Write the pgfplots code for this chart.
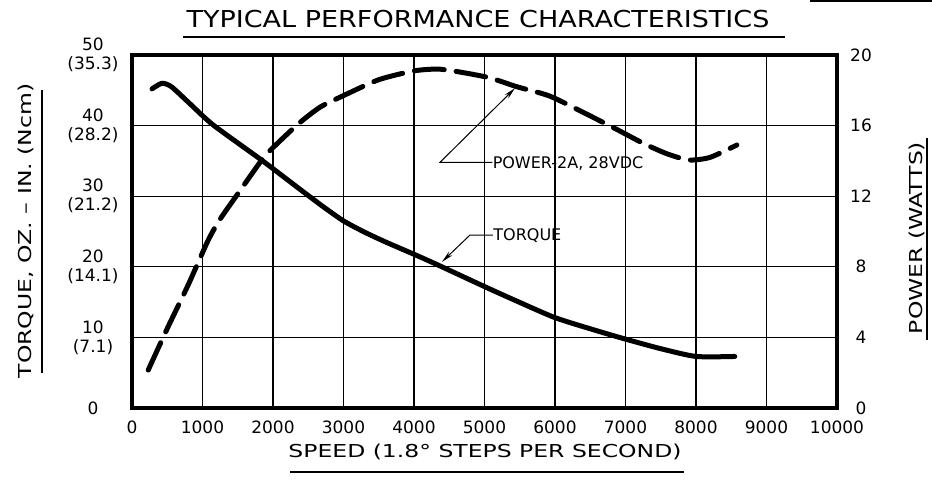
\documentclass[border=0pt]{standalone}
\usepackage{fontspec}
\setmainfont{DejaVu Sans}
\newfontfamily\titlefont[FakeStretch=1.16]{DejaVu Sans}
\newfontfamily\labfont[FakeStretch=1.32]{DejaVu Sans}
\usepackage{pgfplots}
\usepackage{pgfplotstable}
\pgfplotsset{compat=1.18}
\usetikzlibrary{arrows.meta}
\pgfplotstableread{
x T
284 45.2
425 46.0
560 45.5
800 43.3
1150 40.1
1840 35.1
2380 31.0
2700 28.6
3000 26.5
3300 24.9
3600 23.5
4040 21.6
4330 20.3
5000 17.2
5400 15.4
6000 12.8
6640 10.8
7020 9.7
7500 8.4
8000 7.3
8550 7.3
}\torque
\pgfplotstableread{
x P
230 2.15
500 4.5
800 7.0
1080 9.5
1250 10.7
1530 12.3
1840 14.05
2000 14.75
2360 16.1
2670 17.05
3000 17.7
3500 18.6
4000 19.1
4350 19.2
4700 19.0
5080 18.7
5460 18.2
5830 17.8
6050 17.45
6820 15.9
7250 15.0
7590 14.4
7900 14.05
8200 14.2
8580 14.9
}\power
\begin{document}
\begin{tikzpicture}
\useasboundingbox (-132pt,-73pt) rectangle (800pt,408pt);
\begin{axis}[
  at={(0pt,0pt)}, anchor=south west,
  scale only axis, width=705pt, height=353pt,
  xmin=0, xmax=10000, ymin=0, ymax=50,
  scaled x ticks=false, scaled y ticks=false,
  xtick={0,1000,...,10000},
  xticklabels={0,1000,2000,3000,4000,5000,6000,7000,8000,9000,10000},
  ytick={0,10,20,30,40,50},
  yticklabels={0,{10\\(7.1)},{20\\(14.1)},{30\\(21.2)},{40\\(28.2)},{50\\(35.3)}},
  major tick length=0pt,
  grid=major,
  major grid style={black, line width=1.2pt},
  axis line style={black, line width=3.5pt},
  tick label style={font=\fontsize{17}{19}\selectfont},
  xticklabel style={anchor=center, yshift=-19pt},
  yticklabel style={anchor=center, align=center, xshift=-39pt},
]
\addplot[black, line width=5pt, line cap=round, line join=round, smooth, tension=0.4] table[x=x,y=T] {\torque};
\draw[black, line width=1pt, -{Stealth[length=12pt,width=5pt]}] (axis cs:5110,34.8) -- (axis cs:4369,34.8) -- (axis cs:5433,45.3);
\node[anchor=west, inner sep=1pt, font=\fontsize{16}{18}\selectfont] at (axis cs:5100,34.6) {POWER-2A, 28VDC};
\draw[black, line width=1pt, -{Stealth[length=12pt,width=5pt]}] (axis cs:5120,24.5) -- (axis cs:4794,24.5) -- (axis cs:4397,20.7);
\node[anchor=west, inner sep=1pt, font=\fontsize{16}{18}\selectfont] at (axis cs:5110,24.4) {TORQUE};
\end{axis}
\begin{axis}[
  at={(0pt,0pt)}, anchor=south west,
  scale only axis, width=705pt, height=353pt,
  xmin=0, xmax=10000, ymin=0, ymax=20,
  scaled x ticks=false, scaled y ticks=false,
  xtick=\empty,
  ytick={0,4,8,12,16,20},
  yticklabels={0,4,8,12,16,20},
  yticklabel pos=right,
  major tick length=0pt,
  axis line style={draw=none},
  tick label style={font=\fontsize{17}{19}\selectfont},
  yticklabel style={anchor=center, xshift=24pt},
]
\addplot[black, line width=5pt, line cap=round, smooth, tension=0.4, dash pattern=on 30pt off 12pt] table[x=x,y=P] {\power};
\end{axis}
% titles
\node[anchor=base, inner sep=0pt, font=\titlefont\fontsize{23.3}{26}\selectfont] at (346pt,380pt) {TYPICAL PERFORMANCE CHARACTERISTICS};
\draw[line width=1.5pt] (51pt,371pt) -- (653pt,371pt);
\node[anchor=base, inner sep=0pt, font=\labfont\fontsize{17.8}{20}\selectfont] at (353pt,-50pt) {SPEED (1.8° STEPS PER SECOND)};
\draw[line width=1.5pt] (158pt,-64pt) -- (552pt,-64pt);
\node[anchor=base, rotate=90, inner sep=0pt, font=\labfont\fontsize{17.8}{20}\selectfont] at (-100pt,177pt) {TORQUE, OZ. – IN. (Ncm)};
\draw[line width=1.5pt] (-90pt,35pt) -- (-90pt,318pt);
\node[anchor=base, rotate=90, inner sep=0pt, font=\labfont\fontsize{17.8}{20}\selectfont] at (790pt,170pt) {POWER (WATTS)};
\draw[line width=1.5pt] (795pt,68pt) -- (795pt,270pt);
\draw[line width=2.5pt] (678pt,407pt) -- (800pt,407pt);
\end{tikzpicture}
\end{document}
